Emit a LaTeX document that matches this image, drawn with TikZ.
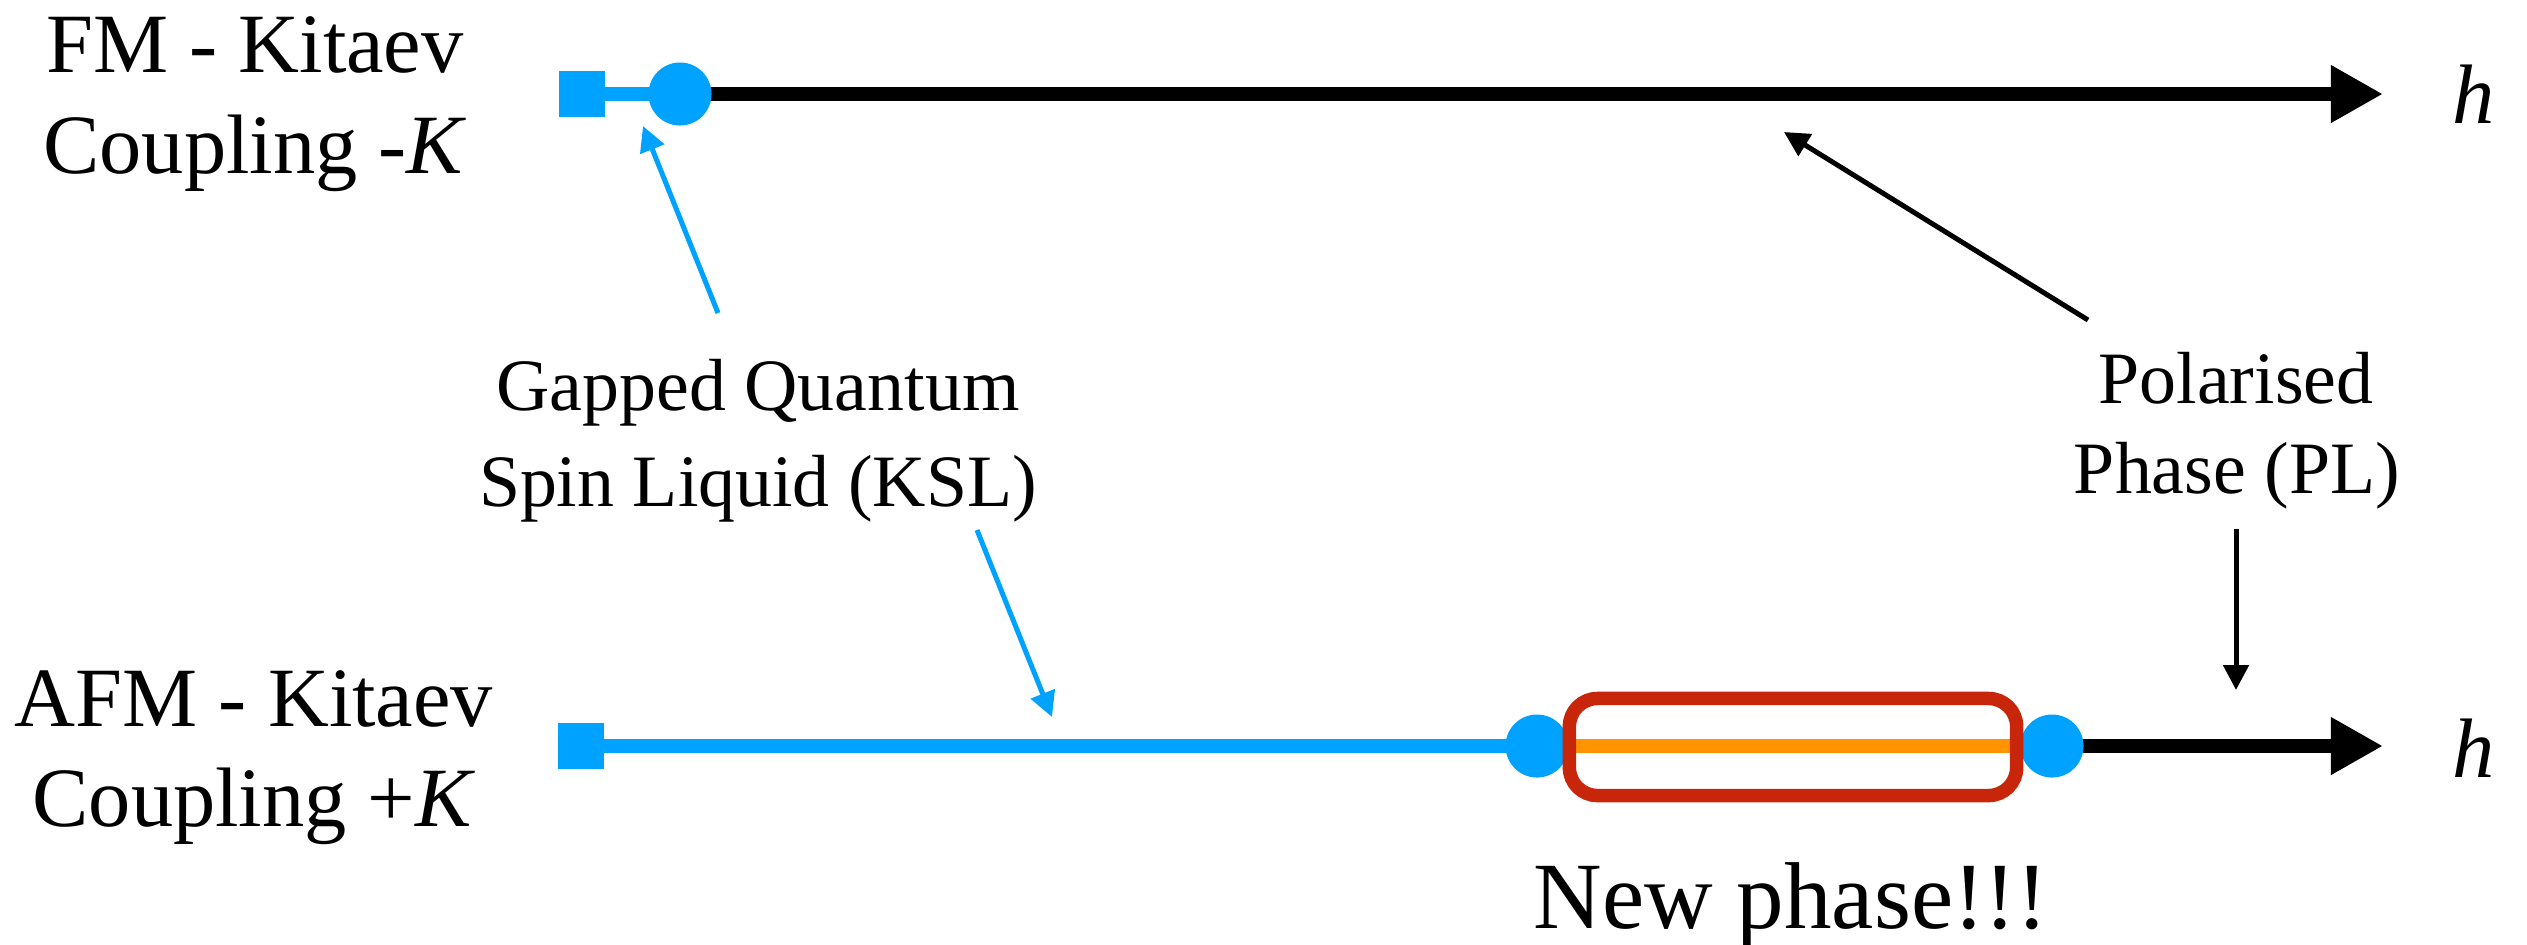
\documentclass[tikz,border=0pt]{standalone}
\usepackage{fontspec}
\setmainfont{Liberation Serif}
\usetikzlibrary{arrows.meta,backgrounds}
\definecolor{kblue}{RGB}{0,162,255}
\definecolor{korange}{RGB}{255,147,0}
\definecolor{kred}{RGB}{200,38,10}
\begin{document}
\begin{tikzpicture}[x=0.01cm, y=-0.01cm,
  title/.style={anchor=base, font=\fontsize{24}{29}\selectfont, inner sep=0pt},
  lbl/.style={anchor=base, font=\fontsize{21}{25}\selectfont, inner sep=0pt},
  axisline/.style={line width=0.14cm},
  axisarrow/.style={line width=0.14cm, -{Triangle[length=0.52cm,width=0.54cm]}},
  pointer/.style={line width=0.05cm, -{Triangle[length=0.25cm,width=0.25cm]}},
  endsq/.style={rectangle, fill=kblue, minimum size=0.46cm, inner sep=0pt},
  crit/.style={circle, fill=kblue, minimum size=0.63cm, inner sep=0pt}]
\useasboundingbox (0,0) rectangle (2527,944);

% left titles
\node[title] (fm1) at (255,72) {FM - Kitaev};
\node[title] (fm2) at (255,173) {Coupling -\textit{K}};
\node[title] (afm1) at (254,726) {AFM - Kitaev};
\node[title] (afm2) at (254,826) {Coupling +\textit{K}};

% top axis
\node[endsq] (sq1) at (582,94) {};
\node[crit] (c1) at (680,94) {};
\coordinate (tip1) at (2383,94);
\node[title] (h1) at (2474,123) {\textit{h}};

% bottom axis
\node[endsq] (sq2) at (581,746) {};
\node[crit] (c2) at (1537,746) {};
\node[crit] (c3) at (2052,746) {};
\coordinate (tip2) at (2383,746);
\node[title] (h2) at (2474,777) {\textit{h}};

\begin{scope}[on background layer]
  \draw[kblue, axisline] (sq1.center) -- (c1.center);
  \draw[axisarrow] (c1.center) -- (tip1);
  \draw[kblue, axisline] (sq2.center) -- (c2.center);
  \draw[korange, axisline] (c2.center) -- (c3.center);
  \draw[axisarrow] (c3.center) -- (tip2);
\end{scope}

% new phase box
\node[draw=kred, line width=0.135cm, rounded corners=0.28cm, minimum width=4.47cm, minimum height=0.97cm, inner sep=0pt] (np) at (1793,747) {};
\node[anchor=base, font=\fontsize{27}{32}\selectfont, inner sep=0pt] (newl) at (1791,928) {New phase!!!};

% labels
\node[lbl] (ksl1) at (758,410) {Gapped Quantum};
\node[lbl] (ksl2) at (758,506) {Spin Liquid (KSL)};
\node[lbl] (pl1) at (2236,403) {Polarised};
\node[lbl] (pl2) at (2237,493) {Phase (PL)};

% pointers
\coordinate (k1s) at (718,313);
\coordinate (k1e) at (643,126);
\coordinate (k2s) at (977,530);
\coordinate (k2e) at (1052,717);
\coordinate (p1s) at (2088,320);
\coordinate (p1e) at (1784,132);
\coordinate (p2s) at (2236,529);
\coordinate (p2e) at (2236,690);
\draw[kblue, pointer] (k1s) -- (k1e);
\draw[kblue, pointer] (k2s) -- (k2e);
\draw[pointer] (p1s) -- (p1e);
\draw[pointer] (p2s) -- (p2e);
\end{tikzpicture}
\end{document}
